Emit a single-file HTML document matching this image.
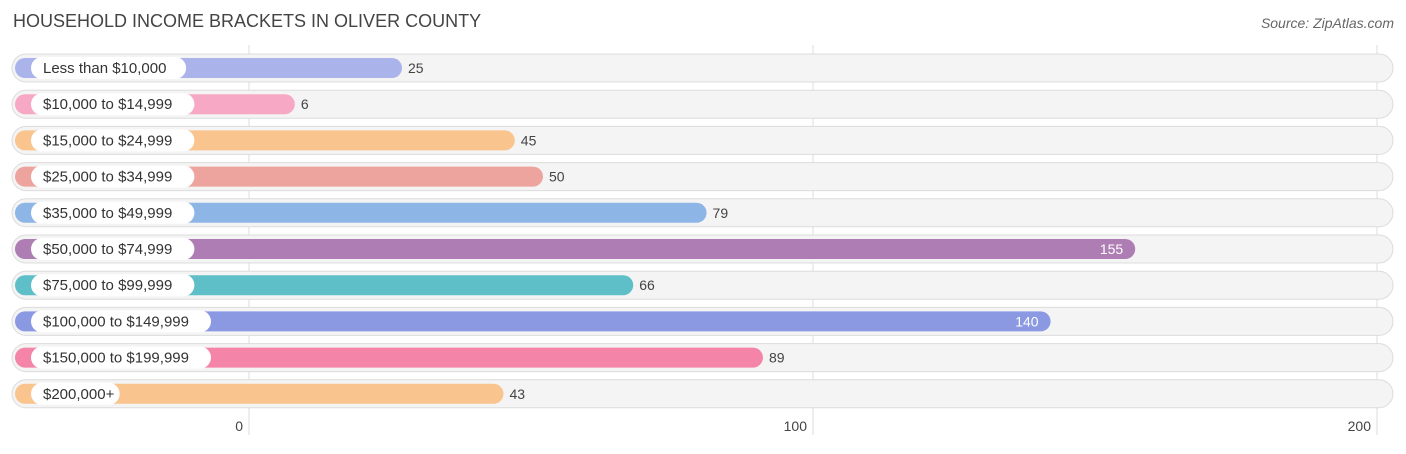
<!DOCTYPE html>
<html><head><meta charset="utf-8"><style>
body{margin:0;background:#fff;font-family:"Liberation Sans",sans-serif;}
svg text{font-family:"Liberation Sans",sans-serif;}
</style></head><body>
<svg width="1406" height="449">
<text x="13" y="27" font-size="18" fill="#444">HOUSEHOLD INCOME BRACKETS IN OLIVER COUNTY</text>
<text x="1394" y="28" font-size="14" fill="#666" font-style="italic" text-anchor="end">Source: ZipAtlas.com</text>
<g id="grid"></g><g id="rows"></g><g id="ticks"></g>
</svg>
<script>
const categories=["Less than $10,000","$10,000 to $14,999","$15,000 to $24,999","$25,000 to $34,999","$35,000 to $49,999","$50,000 to $74,999","$75,000 to $99,999","$100,000 to $149,999","$150,000 to $199,999","$200,000+"];
const values=[25,6,45,50,79,155,66,140,89,43];
const colors=["#aab4ea","#f6a8c5","#f9c48e","#eea49e","#8db5e6","#ae7db3","#5fbfc8","#8a99e2","#f585a8","#f9c48e"];
const tickValues=[0,100,200];
const NS="http://www.w3.org/2000/svg";
const x=v=>249+5.64*v;
const y=i=>68+36.2*i;
function mk(t,a,p){const e=document.createElementNS(NS,t);for(const k in a)e.setAttribute(k,a[k]);p.appendChild(e);return e;}
const grid=document.getElementById('grid'),rows=document.getElementById('rows'),ticks=document.getElementById('ticks');
tickValues.forEach(t=>{
 const l=mk('line',{x1:x(t),x2:x(t),y1:45,y2:435,stroke:'#ddd','stroke-width':1},grid);
 
 
 const tx=mk('text',{x:x(t)-6,y:431,'font-size':14,fill:'#444','text-anchor':'end'},ticks);
 tx.textContent=t;
 
 
});
categories.forEach((c,i)=>{
 const cy=y(i);
 const g=mk('g',{},rows);
 
 
 mk('rect',{x:12,y:cy-14,width:1381,height:28,rx:14,fill:'#f4f4f4',stroke:'#dcdcdc','stroke-width':1},g);
 const end=x(values[i])+12;
 const b=mk('rect',{x:15,y:cy-10,width:end-15,height:20,rx:10,fill:colors[i]},g);
 
 
 const tw=c.length*8.3+14;
 const p=mk('rect',{x:31,y:cy-11,width:tw,height:22,rx:11,fill:'#fff'},g);
 
 
 const lt=mk('text',{x:43,y:cy+5,'font-size':15,fill:'#333'},g);
 lt.textContent=c;
 
 
 const inside=values[i]>120;
 const vt=mk('text',{x:inside?end-12:end+6,y:cy+5,'font-size':14,fill:inside?'#fff':'#444','text-anchor':inside?'end':'start'},g);
 vt.textContent=values[i];
 
 
});
</script>
</body></html>
